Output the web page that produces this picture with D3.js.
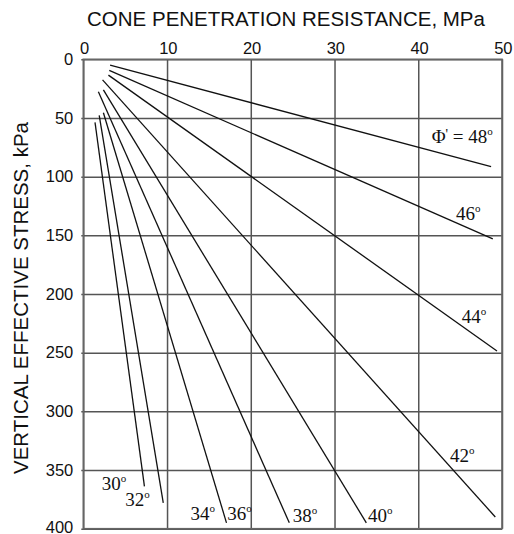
<!DOCTYPE html>
<html>
<head>
    <title>Cone penetration chart</title>
    <script src="https://cdnjs.cloudflare.com/ajax/libs/d3/7.8.5/d3.min.js"></script>
    <style>
        body { margin: 0; background: #fff; }
        .axis text { font-family: "Liberation Sans", Arial, sans-serif; font-size: 16.5px; fill: #111; }
        .axis .domain { display: none; }
        .axis line { stroke: #555; stroke-width: 1.5; }
        .phi { font-family: "Liberation Serif", "Times New Roman", serif; font-size: 19px; fill: #111; }
    </style>
</head>
<body>
    <div id="vis"></div>

    <script>
        // axis ticks
        var xTicks = [0, 10, 20, 30, 40, 50];
        var yTicks = [0, 50, 100, 150, 200, 250, 300, 350, 400];

        // friction angle lines (cone resistance MPa, vertical stress kPa)
        var phiLines = [30, 32, 36, 38, 40, 42, 44, 46, 48];
        var qStart = [1.4, 1.9, 2.4, 1.8, 2.4, 2.3, 3.0, 3.1, 3.2];
        var sStart = [53.7, 47.7, 45.5, 27.6, 26, 17.5, 13.5, 9.5, 5];
        var qEnd = [7.3, 9.55, 17.1, 24.6, 33.8, 49.2, 49.4, 48.9, 48.7];
        var sEnd = [364, 378, 395, 395, 395, 390, 248.5, 153, 91.5];

        // labels, anchored at (q, sigma)
        var phiLabels = [30, 32, 34, 36, 38, 40, 42, 44, 46, 48];
        var labelQ = [2.2, 5.0, 12.8, 17.2, 25.0, 34.0, 43.8, 45.2, 44.5, 41.6];
        var labelS = [367, 380.4, 392.6, 392.6, 394, 394, 342.9, 225, 136.9, 71.3];

        var W = 514, H = 534;
        var pLeft = 83.3, pTop = 59.3, pRight = 502, pBottom = 528.7;

        var x = d3.scaleLinear().domain([0, 50]).range([pLeft, pRight]);
        var y = d3.scaleLinear().domain([0, 400]).range([pTop, pBottom]);

        var vis = d3.select("#vis").append("svg")
            .attr("width", W)
            .attr("height", H);

        // x axis on top, ticks become the vertical grid
        var gx = vis.append("g")
            .attr("class", "axis")
            .attr("transform", "translate(0," + pTop + ")")
            .call(d3.axisTop(x).tickValues(xTicks).tickSizeInner(-(pBottom - pTop)).tickSizeOuter(0).tickPadding(5));
        gx.selectAll("text").attr("dx", "0.05em");

        // y axis, ticks become horizontal grid lines
        var gy = vis.append("g")
            .attr("class", "axis")
            .attr("transform", "translate(" + pLeft + ",0)")
            .call(d3.axisLeft(y).tickValues(yTicks).tickSizeInner(-(pRight - pLeft)).tickSizeOuter(0).tickPadding(10));
        gy.selectAll("line").attr("x1", -2);
        gy.selectAll("text").filter(function(d) { return d === 400; }).attr("dy", "0.2em");

        // frame
        vis.append("rect")
            .attr("x", pLeft)
            .attr("y", pTop)
            .attr("width", pRight - pLeft)
            .attr("height", pBottom - pTop)
            .style("fill", "none")
            .style("stroke", "#666")
            .style("stroke-width", 1.6);

        // titles
        vis.append("text")
            .attr("x", 286)
            .attr("y", 26)
            .attr("text-anchor", "middle")
            .style("font-family", "Liberation Sans, Arial, sans-serif")
            .style("font-size", "20.5px")
            .style("fill", "#111")
            .text("CONE PENETRATION RESISTANCE, MPa");

        vis.append("text")
            .attr("transform", "translate(28," + ((pTop + pBottom) / 2 + 4) + ") rotate(-90)")
            .attr("text-anchor", "middle")
            .style("font-family", "Liberation Sans, Arial, sans-serif")
            .style("font-size", "20.5px")
            .style("fill", "#111")
            .text("VERTICAL EFFECTIVE STRESS, kPa");

        // the phi lines
        vis.append("g").selectAll("line")
            .data(phiLines)
            .enter().append("line")
            .attr("x1", function(d, i) { return x(qStart[i]); })
            .attr("y1", function(d, i) { return y(sStart[i]); })
            .attr("x2", function(d, i) { return x(qEnd[i]); })
            .attr("y2", function(d, i) { return y(sEnd[i]); })
            .style("stroke", "#111")
            .style("stroke-width", 1.3);

        // labels with small superscript degree
        var lab = vis.append("g").selectAll("text")
            .data(phiLabels)
            .enter().append("text")
            .attr("class", "phi")
            .attr("x", function(d, i) { return x(labelQ[i]); })
            .attr("y", function(d, i) { return y(labelS[i]); });

        lab.each(function(d) {
            var t = d3.select(this);
            if (d === 48) {
                t.append("tspan").text("\u03A6");
                t.append("tspan").attr("dy", -4).style("font-size", "14px").text("'");
                t.append("tspan").attr("dy", 4).text(" = " + d);
            } else {
                t.append("tspan").text(d);
            }
            t.append("tspan").attr("dy", -8).style("font-size", "11px").text("o");
        });
    </script>
</body>
</html>
